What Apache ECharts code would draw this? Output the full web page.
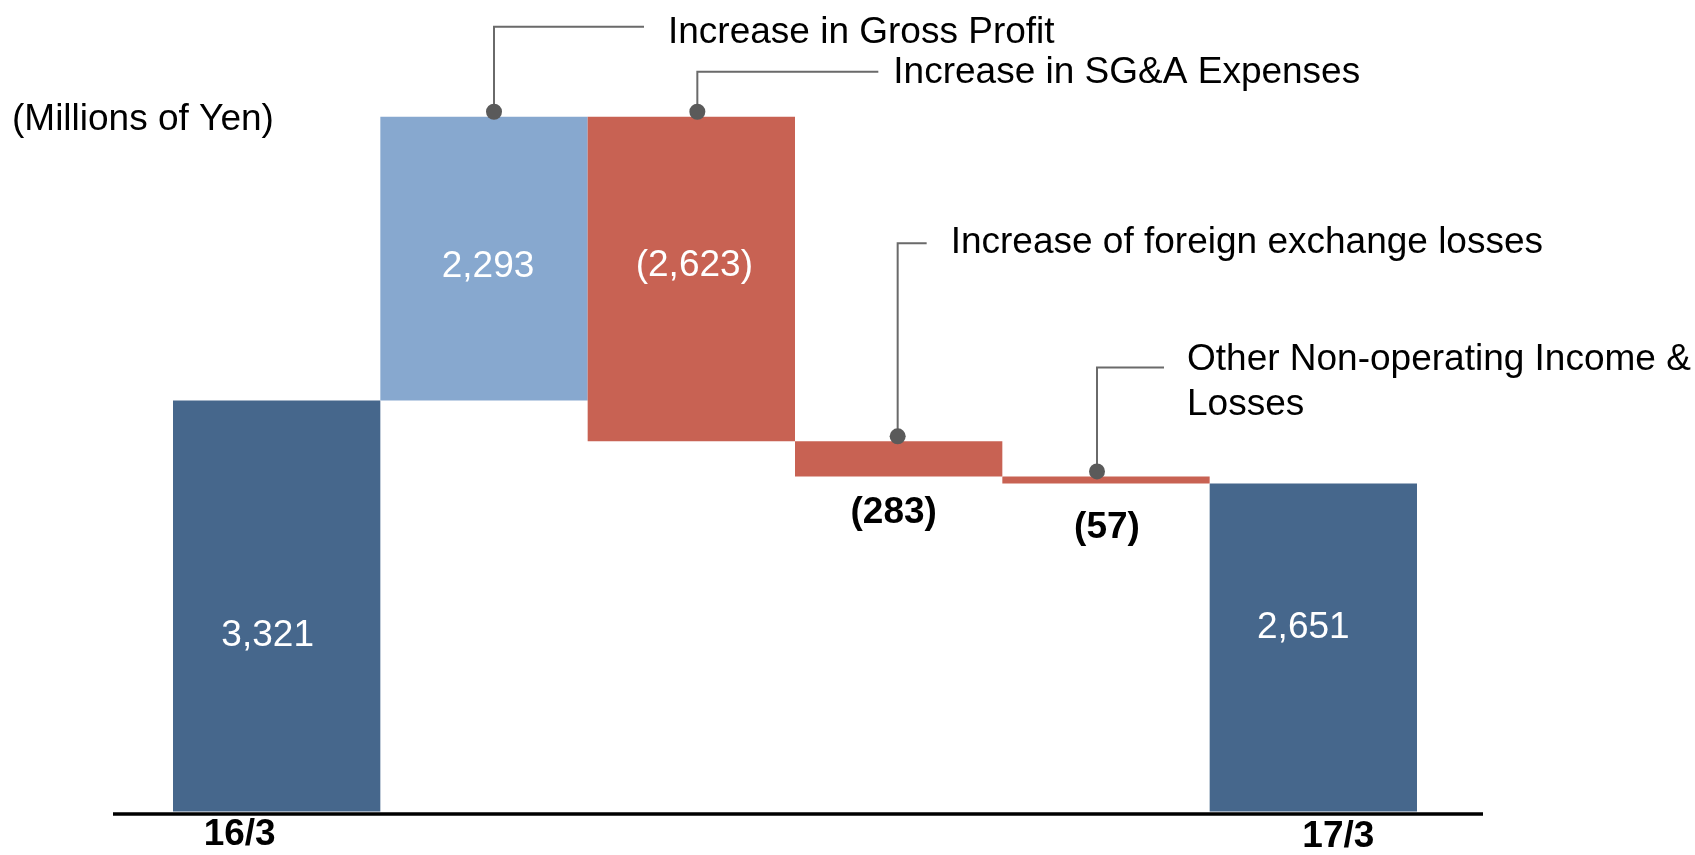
<!DOCTYPE html>
<html>
<head>
<meta charset="utf-8">
<script src="https://cdn.jsdelivr.net/npm/echarts@6/dist/echarts.min.js"></script>
<style>
  html, body { margin: 0; padding: 0; background: #ffffff; }
  #chart { width: 1695px; height: 855px; }
</style>
</head>
<body>
<div id="chart"></div>
<script>
// ---- data ----
const categories = ['16/3', 'Increase in Gross Profit', 'Increase in SG&A Expenses',
  'Increase of foreign exchange losses', 'Other Non-operating Income &\nLosses', '17/3'];
const changes = [3321, 2293, -2623, -283, -57, 2651];
const kinds = ['total', 'increase', 'decrease', 'decrease', 'decrease', 'total'];
const valueLabels = ['3,321', '2,293', '(2,623)', '(283)', '(57)', '2,651'];
const yAxisMax = 6000;

// ---- layout / style (not data) ----
const FONT = 'Arial, "Liberation Sans", sans-serif';
const colors = { total: '#46678C', increase: '#87A8CF', decrease: '#C86253' };
const labelOffsets = [[-9, 30], [4, 8], [3, -13], [-5, 54], [1, 48], [-10, -20]];
const labelStyles = { inBar: { color: '#ffffff', fontWeight: 'normal' }, outside: { color: '#000000', fontWeight: 'bold' } };
// leader geometry per annotated category: dx from bar centre, dy elbow, horizontal length, gap to text, text y shift
const leaders = {
  1: { dx: 10, dy: -85, len: 150, gap: 24, ty: 6 },
  2: { dx: 6, dy: -40, len: 181, gap: 15, ty: 1 },
  3: { dx: -1, dy: -193, len: 29, gap: 24, ty: -1 },
  4: { dx: -9, dy: -104, len: 67, gap: 23, ty: 14.5 }
};

// ---- waterfall computation ----
const bases = [], heights = [];
let running = 0;
changes.forEach((v, i) => {
  if (kinds[i] === 'total') { bases.push(0); heights.push(v); running = v; }
  else if (v >= 0) { bases.push(running); heights.push(v); running += v; }
  else { running += v; bases.push(running); heights.push(-v); }
});
const tops = bases.map((b, i) => b + heights[i]);
const annotData = [];
categories.forEach((c, i) => { if (kinds[i] !== 'total') annotData.push([i, tops[i]]); });

const chart = echarts.init(document.getElementById('chart'), null, { renderer: 'canvas' });

chart.setOption({
  animation: false,
  backgroundColor: '#ffffff',
  title: {
    text: '(Millions of Yen)',
    left: 7, top: 96,
    textStyle: { fontFamily: FONT, fontSize: 37, fontWeight: 'normal', color: '#000000' }
  },
  grid: { left: 173, right: 278, top: 69, bottom: 42, containLabel: false },
  xAxis: {
    type: 'category',
    data: categories,
    axisLine: { show: false },
    axisTick: { show: false },
    axisLabel: {
      interval: 0,
      margin: 5,
      formatter: (v, i) => kinds[i] === 'total' ? ('{' + (i === 0 ? 'a' : 'b') + '|' + v + '}') : '',
      rich: {
        a: { fontFamily: FONT, fontSize: 37, fontWeight: 'bold', color: '#000', lineHeight: 37, padding: [0, 74, 0, 0] },
        b: { fontFamily: FONT, fontSize: 37, fontWeight: 'bold', color: '#000', lineHeight: 37, padding: [3, 0, 0, 50] }
      }
    }
  },
  yAxis: { type: 'value', min: 0, max: yAxisMax, show: false, splitLine: { show: false } },
  graphic: [{
    type: 'line', z: 10,
    shape: { x1: 113, y1: 814, x2: 1483, y2: 814 },
    style: { stroke: '#000000', lineWidth: 3.5 }
  }],
  series: [
    {
      type: 'bar', stack: 'wf', barCategoryGap: '0%', silent: true,
      itemStyle: { color: 'transparent' },
      data: bases
    },
    {
      type: 'bar', stack: 'wf', barCategoryGap: '0%',
      data: heights.map((h, i) => {
        const inBar = Math.abs(h) > 1000;
        const st = inBar ? labelStyles.inBar : labelStyles.outside;
        return {
          value: h,
          itemStyle: { color: colors[kinds[i]] },
          label: {
            show: true, position: 'inside', offset: labelOffsets[i],
            formatter: valueLabels[i],
            fontFamily: FONT, fontSize: 37, color: st.color, fontWeight: st.fontWeight
          }
        };
      })
    },
    {
      type: 'custom', z: 5,
      data: annotData,
      renderItem: (params, api) => {
        const idx = api.value(0);
        const p = api.coord([idx, api.value(1)]);
        const L = leaders[idx];
        const x = p[0] + L.dx, y = p[1] - 5;
        const ey = y + L.dy;
        return {
          type: 'group',
          children: [
            { type: 'polyline', shape: { points: [[x, y], [x, ey], [x + L.len, ey]] },
              style: { stroke: '#6A6A6A', lineWidth: 2, fill: null } },
            { type: 'circle', shape: { cx: x, cy: y, r: 8 }, style: { fill: '#5A5A5A' } },
            { type: 'text', style: {
                text: categories[idx], x: x + L.len + L.gap, y: ey + L.ty,
                align: 'left', verticalAlign: 'middle', lineHeight: 45,
                fontFamily: FONT, fontSize: 37, fill: '#000000' } }
          ]
        };
      }
    }
  ]
});
</script>
</body>
</html>
